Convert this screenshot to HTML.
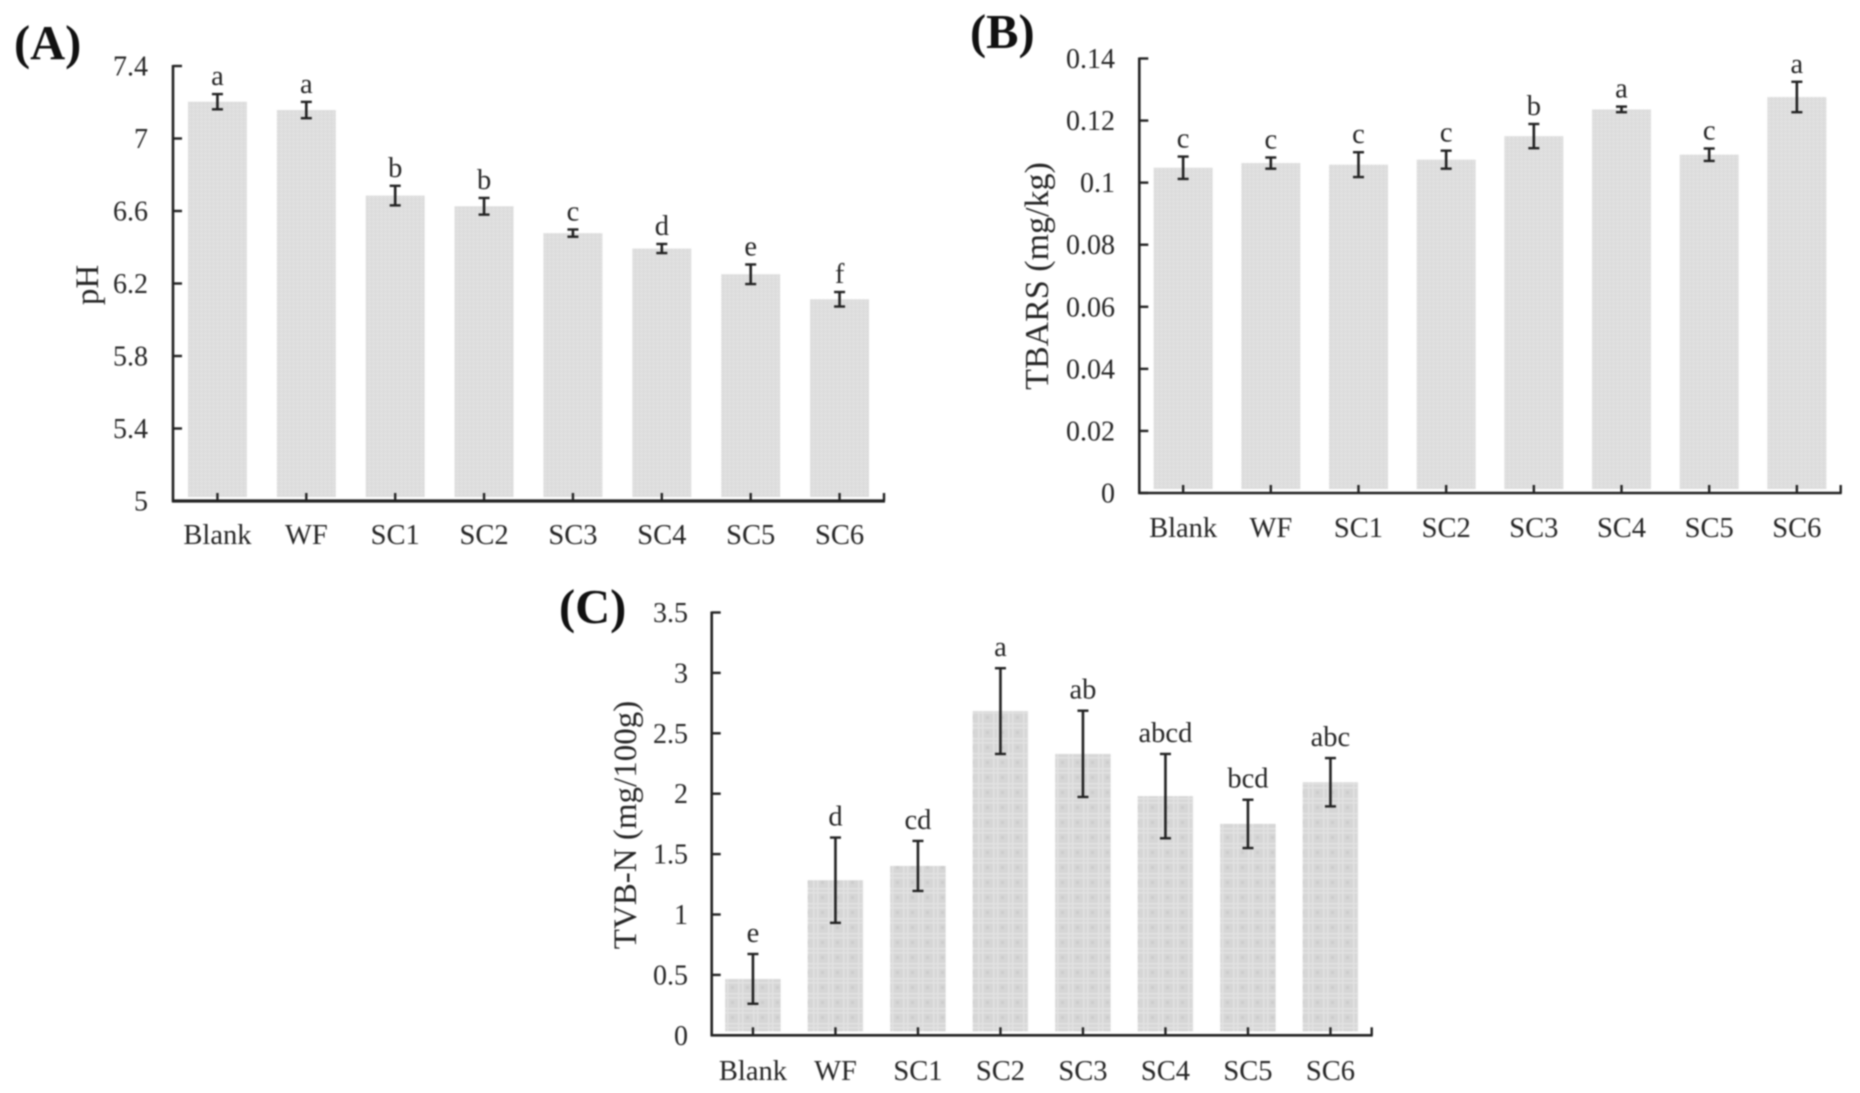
<!DOCTYPE html>
<html lang="en">
<head>
<meta charset="utf-8">
<title>pH, TBARS and TVB-N bar charts</title>
<style>
html,body{margin:0;padding:0;background:#fff;width:1860px;height:1093px;overflow:hidden}
svg{display:block;filter:blur(.7px)}
text{font-family:"Liberation Serif","Times New Roman",serif;fill:#262626}
</style>
</head>
<body>
<svg id="figure" xmlns="http://www.w3.org/2000/svg" width="1860" height="1093" viewBox="0 0 1860 1093">
<defs>
<pattern id="fineDots" patternUnits="userSpaceOnUse" width="4" height="4">
<rect width="4" height="4" fill="#dedede"/>
<rect x="1" y="1" width="1" height="1" fill="#e9e9e9"/>
<rect x="3" y="3" width="1" height="1" fill="#d6d6d6"/>
</pattern>
<pattern id="coarseGrid" patternUnits="userSpaceOnUse" width="15" height="15">
<rect width="15" height="15" fill="#d6d6d6"/>
<rect x="3" width="1.5" height="15" fill="#e2e2e2"/>
<rect x="7" width="1.5" height="15" fill="#e2e2e2"/>
<rect y="3" width="15" height="1.5" fill="#e2e2e2"/>
<rect y="7" width="15" height="1.5" fill="#e2e2e2"/>
<rect x="11" y="11" width="3" height="3" fill="#cdcdcd"/>
</pattern>
</defs>
</svg>
<script>
const categories = ["Blank", "WF", "SC1", "SC2", "SC3", "SC4", "SC5", "SC6"];

const phTicks = ["5", "5.4", "5.8", "6.2", "6.6", "7", "7.4"];
const phValues = [7.203, 7.157, 6.685, 6.626, 6.478, 6.393, 6.251, 6.113];
const phErrors = [0.042, 0.045, 0.054, 0.046, 0.020, 0.025, 0.054, 0.040];
const phLetters = ["a", "a", "b", "b", "c", "d", "e", "f"];

const tbarsTicks = ["0", "0.02", "0.04", "0.06", "0.08", "0.1", "0.12", "0.14"];
const tbarsValues = [0.1048, 0.1063, 0.1058, 0.1074, 0.115, 0.1236, 0.109, 0.1276];
const tbarsErrors = [0.0036, 0.0018, 0.004, 0.0029, 0.0039, 0.0009, 0.002, 0.0049];
const tbarsLetters = ["c", "c", "c", "c", "b", "a", "c", "a"];

const tvbnTicks = ["0", "0.5", "1", "1.5", "2", "2.5", "3", "3.5"];
const tvbnValues = [0.467, 1.284, 1.402, 2.684, 2.33, 1.98, 1.75, 2.095];
const tvbnErrors = [0.206, 0.353, 0.207, 0.355, 0.357, 0.349, 0.2, 0.2];
const tvbnLetters = ["e", "d", "cd", "a", "ab", "abcd", "bcd", "abc"];

const svg = document.getElementById("figure");
const NS = "http://www.w3.org/2000/svg";

function make(parent, tag, attrs, content) {
  const el = document.createElementNS(NS, tag);
  for (const k in attrs) el.setAttribute(k, attrs[k]);
  if (content !== undefined) el.textContent = content;
  parent.appendChild(el);
  return el;
}

function drawPanel(p) {
  const g = make(svg, "g", {});
  
  

  const tickNums = p.ticks.map(Number);
  const yMin = tickNums[0];
  const yMax = tickNums[tickNums.length - 1];
  const yScale = v => p.bottom - (v - yMin) / (yMax - yMin) * (p.bottom - p.top);
  const band = (p.right - p.left) / p.categories.length;
  const xScale = i => p.left + band * (i + 0.5);

  p.values.forEach((v, i) => {
    const bar = make(g, "rect", {
      x: xScale(i) - p.barWidth / 2,
      y: yScale(v),
      width: p.barWidth,
      height: p.bottom - 4 - yScale(v),
      fill: "url(#" + p.fill + ")"
    });
    
    
  });

  const yAxis = make(g, "line", {x1: p.left, y1: p.top - 1, x2: p.left, y2: p.bottom + 1, stroke: "#222", "stroke-width": 2.6});
  
  

  const xAxis = make(g, "line", {x1: p.left - 1, y1: p.bottom, x2: p.right + 1, y2: p.bottom, stroke: "#222", "stroke-width": p.xAxisWidth});
  
  

  const endTick = make(g, "line", {x1: p.right, y1: p.bottom, x2: p.right, y2: p.bottom - 8, stroke: "#222", "stroke-width": 2.4});
  
  

  p.ticks.forEach((t, i) => {
    const y = yScale(tickNums[i]);
    const tick = make(g, "line", {x1: p.left, y1: y, x2: p.left + 9, y2: y, stroke: "#222", "stroke-width": 2.4});
    
    
    const label = make(g, "text", {x: p.yLabelRight, y: y + 9.5, "text-anchor": "end", "font-size": 28}, t);
    
    
  });

  p.categories.forEach((c, i) => {
    const x = xScale(i);
    const tick = make(g, "line", {x1: x, y1: p.bottom, x2: x, y2: p.bottom - 8, stroke: "#222", "stroke-width": 2.4});
    
    
    const label = make(g, "text", {x: x, y: p.xLabelBase, "text-anchor": "middle", "font-size": 28.5}, c);
    
    
  });

  p.values.forEach((v, i) => {
    const x = xScale(i);
    const hi = yScale(v + p.errors[i]);
    const lo = yScale(v - p.errors[i]);
    const stem = make(g, "line", {x1: x, y1: hi, x2: x, y2: lo, stroke: "#222", "stroke-width": 2.6});
    
    
    const capTop = make(g, "line", {x1: x - 5.5, y1: hi, x2: x + 5.5, y2: hi, stroke: "#222", "stroke-width": 2.4});
    
    
    const capBottom = make(g, "line", {x1: x - 5.5, y1: lo, x2: x + 5.5, y2: lo, stroke: "#222", "stroke-width": 2.4});
    
    
    const letter = make(g, "text", {x: x, y: hi - p.letterGap, "text-anchor": "middle", "font-size": 28.5}, p.letters[i]);
    
    
  });

  const title = make(g, "text", {
    x: p.titleX, y: p.titleY, "text-anchor": "middle", "font-size": p.titleSize,
    transform: "rotate(-90 " + p.titleX + " " + p.titleY + ")"
  }, p.title);
  
  

  const tag = make(g, "text", {x: p.tagX, y: p.tagY, "font-size": 48.5, "font-weight": "bold", style: "fill:#111"}, p.tag);
  
  
}

drawPanel({
  name: "ph", title: "pH", tag: "(A)", categories: categories,
  ticks: phTicks, values: phValues, errors: phErrors, letters: phLetters,
  left: 173, right: 884, top: 66, bottom: 501, barWidth: 59, fill: "fineDots", xAxisWidth: 3.2,
  yLabelRight: 148, xLabelBase: 544, titleX: 98, titleY: 285, titleSize: 33, tagX: 14, tagY: 59, letterGap: 9
});
drawPanel({
  name: "tbars", title: "TBARS (mg/kg)", tag: "(B)", categories: categories,
  ticks: tbarsTicks, values: tbarsValues, errors: tbarsErrors, letters: tbarsLetters,
  left: 1139.3, right: 1840.7, top: 58.5, bottom: 493, barWidth: 59, fill: "fineDots", xAxisWidth: 2.6,
  yLabelRight: 1115, xLabelBase: 537, titleX: 1048, titleY: 276, titleSize: 34, tagX: 970, tagY: 48, letterGap: 9
});
drawPanel({
  name: "tvbn", title: "TVB-N (mg/100g)", tag: "(C)", categories: categories,
  ticks: tvbnTicks, values: tvbnValues, errors: tvbnErrors, letters: tvbnLetters,
  left: 711.7, right: 1371.7, top: 612.5, bottom: 1035.3, barWidth: 55.5, fill: "coarseGrid", xAxisWidth: 2.6,
  yLabelRight: 688, xLabelBase: 1080, titleX: 636, titleY: 825, titleSize: 33, tagX: 559, tagY: 623, letterGap: 12
});
</script>
</body>
</html>
